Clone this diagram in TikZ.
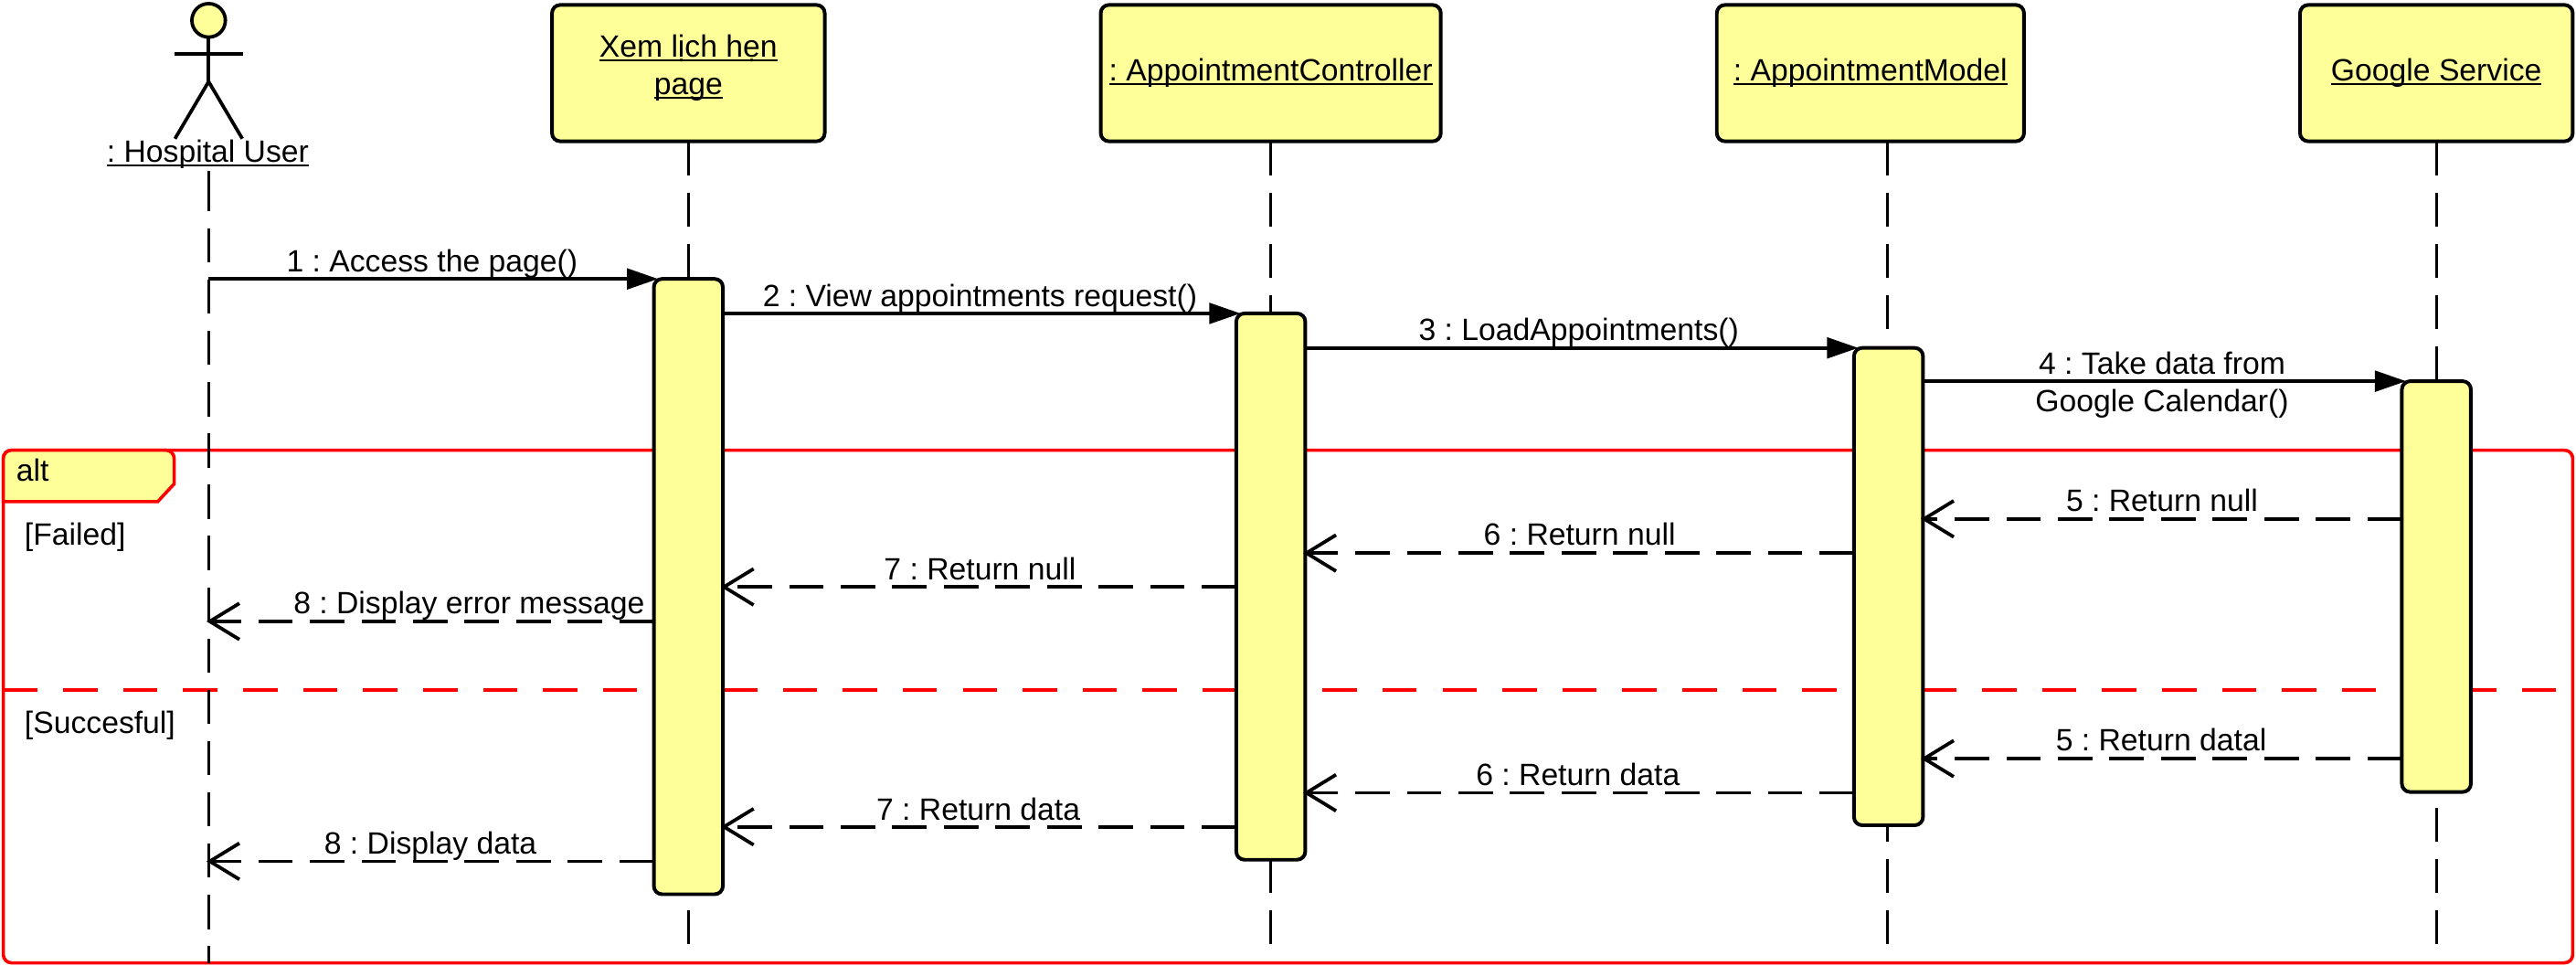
\documentclass[tikz,border=0pt]{standalone}
\usepackage{fontspec}
\setmainfont{Liberation Sans}
\usetikzlibrary{arrows.meta}
\frenchspacing
\definecolor{umlfill}{RGB}{255,255,153}
\definecolor{umlred}{RGB}{255,0,0}
\newcommand{\ulx}[1]{\setbox0=\hbox{#1}\hbox to \wd0{\rlap{\rule[-2.3pt]{\wd0}{1.1pt}}\box0}}
\tikzset{
  base text/.style={font=\fontsize{18.75}{23}\selectfont, inner sep=0pt, outer sep=0pt, text=black},
  lbl/.style={base text, anchor=base, align=center},
  objbox/.style={base text, draw=black, fill=umlfill, line width=2.2pt, rounded corners=5pt, minimum height=83pt, align=center},
  actbox/.style={draw=black, fill=umlfill, line width=2.2pt, rounded corners=5pt, inner sep=0pt, outer sep=0pt, minimum width=42pt},
  life/.style={draw=black, line width=1.9pt, dash pattern=on 20.8pt off 10.4pt},
  call/.style={draw=black, line width=2.1pt, -{Triangle[length=19pt,width=12.5pt]}},
  ret/.style={draw=black, line width=2.1pt, dash pattern=on 21pt off 10.4pt, shorten >=-1.3pt, -{Straight Barb[length=18pt,width=22pt]}},
  limb/.style={draw=black, line width=2.1pt},
}
\begin{document}
\begin{tikzpicture}[x=1pt,y=-1pt]
\useasboundingbox (0,0) rectangle (1568,587.4);
% alt frame
\node[draw=umlred, line width=2pt, rounded corners=5pt, inner sep=0pt, outer sep=0pt, minimum width=1564pt, minimum height=312pt] (frame) at (784,430) {};
\draw[fill=umlfill, draw=umlred, line width=2pt, rounded corners=5pt]
  (frame.north west) -- (106,274) [rounded corners=0pt] -- (106,294.5) -- (96,305.3) -- (2,305.3) [rounded corners=5pt] -- cycle;
\draw[draw=umlred, line width=2pt, dash pattern=on 20.9pt off 15.6pt] (frame.west |- 0,419.8) -- (frame.east |- 0,419.8);
\node[base text, anchor=base west] (alt) at (10,292.6) {alt};
\node[base text, anchor=base west] (failed) at (15,332) {[Failed]};
\node[base text, anchor=base west] (succ) at (15,446.4) {[Succesful]};
% actor
\node[draw=black, fill=umlfill, line width=2.1pt, circle, minimum size=20.4pt, inner sep=0pt, outer sep=0pt] (head) at (127,12.4) {};
\coordinate (hip) at (127,49.7);
\coordinate (armL) at (106.3,33);
\coordinate (armR) at (147.8,33);
\coordinate (legL) at (106.5,84.4);
\coordinate (legR) at (147.5,84.4);
\draw[limb] (head.south) -- (hip);
\draw[limb] (armL) -- (armR);
\draw[limb] (legL) -- (hip) -- (legR);
\node[lbl] (user) at (126.5,99) {\ulx{: Hospital User}};
% objects
\node[objbox, minimum width=166pt] (page) at (419,44.5) {};
\node[lbl] (pagea) at (419,35) {\ulx{Xem lịch hẹn}};
\node[lbl] (pageb) at (419,57.6) {\ulx{page}};
\node[objbox, minimum width=207pt] (ctrl) at (773.5,44.5) {\ulx{: AppointmentController}};
\node[objbox, minimum width=187pt] (model) at (1138.5,44.5) {\ulx{: AppointmentModel}};
\node[objbox, minimum width=166pt] (google) at (1483,44.5) {\ulx{Google Service}};
% lifeline ends
\coordinate (ll1) at (127,586);
\coordinate (ll1a) at (127,104);
\coordinate (ll1b) at (127,128.7);
\coordinate (ll1c) at (127,139);
\coordinate (ll2) at (419,576);
\coordinate (ll3) at (773.5,576);
\coordinate (ll4) at (1149,576);
\coordinate (ll5) at (1483,576);
% lifelines
\draw[draw=black, line width=1.9pt] (ll1a) -- (ll1b);
\draw[life] (ll1c) -- (ll1);
\draw[life] (page.south -| ll2) -- (ll2);
\draw[life] (ctrl.south -| ll3) -- (ll3);
\draw[life] (model.south -| ll4) -- (ll4);
\draw[life] (google.south -| ll5) -- (ll5);
% activations
\node[actbox, minimum height=374.5pt] (a2) at (419,357) {};
\node[actbox, minimum height=332.5pt] (a3) at (773.5,357) {};
\node[actbox, minimum height=290.5pt] (a4) at (1149.5,357) {};
\node[actbox, minimum height=250pt] (a5) at (1483,357) {};
% call messages
\draw[call] (ll1 |- a2.north) -- ([xshift=2.6pt]a2.north west);
\draw[call] (a2.east |- a3.north) -- ([xshift=2.6pt]a3.north west);
\draw[call] (a3.east |- a4.north) -- ([xshift=2.6pt]a4.north west);
\draw[call] (a4.east |- a5.north) -- ([xshift=2.6pt]a5.north west);
% return levels
\coordinate (y5n) at (0,315.8);
\coordinate (y6n) at (0,336.6);
\coordinate (y7n) at (0,357.2);
\coordinate (y8n) at (0,378.2);
\coordinate (y5d) at (0,461.7);
\coordinate (y6d) at (0,482.5);
\coordinate (y7d) at (0,503.2);
\coordinate (y8d) at (0,524.2);
\draw[ret] (a5.west |- y5n) -- (a4.east |- y5n);
\draw[ret] (a4.west |- y6n) -- (a3.east |- y6n);
\draw[ret] (a3.west |- y7n) -- (a2.east |- y7n);
\draw[ret] (a2.west |- y8n) -- (ll1 |- y8n);
\draw[ret] (a5.west |- y5d) -- (a4.east |- y5d);
\draw[ret] (a4.west |- y6d) -- (a3.east |- y6d);
\draw[ret] (a3.west |- y7d) -- (a2.east |- y7d);
\draw[ret] (a2.west |- y8d) -- (ll1 |- y8d);
% labels
\node[lbl] (m1) at (263,165.6) {1 : Access the page()};
\node[lbl] (m2) at (596.5,186.5) {2 : View appointments request()};
\node[lbl] (m3) at (961,207) {3 : LoadAppointments()};
\node[lbl] (m4a) at (1316,227.5) {4 : Take data from};
\node[lbl] (m4b) at (1316,250.5) {Google Calendar()};
\node[lbl] (m5n) at (1316,311) {5 : Return null};
\node[lbl] (m6n) at (961.5,332) {6 : Return null};
\node[lbl] (m7n) at (596.5,353) {7 : Return null};
\node[lbl] (m8n) at (285.5,373.7) {8 : Display error message};
\node[lbl] (m5d) at (1315.5,457) {5 : Return datal};
\node[lbl] (m6d) at (960.5,478) {6 : Return data};
\node[lbl] (m7d) at (595.5,499) {7 : Return data};
\node[lbl] (m8d) at (262,519.8) {8 : Display data};
\end{tikzpicture}
\end{document}
